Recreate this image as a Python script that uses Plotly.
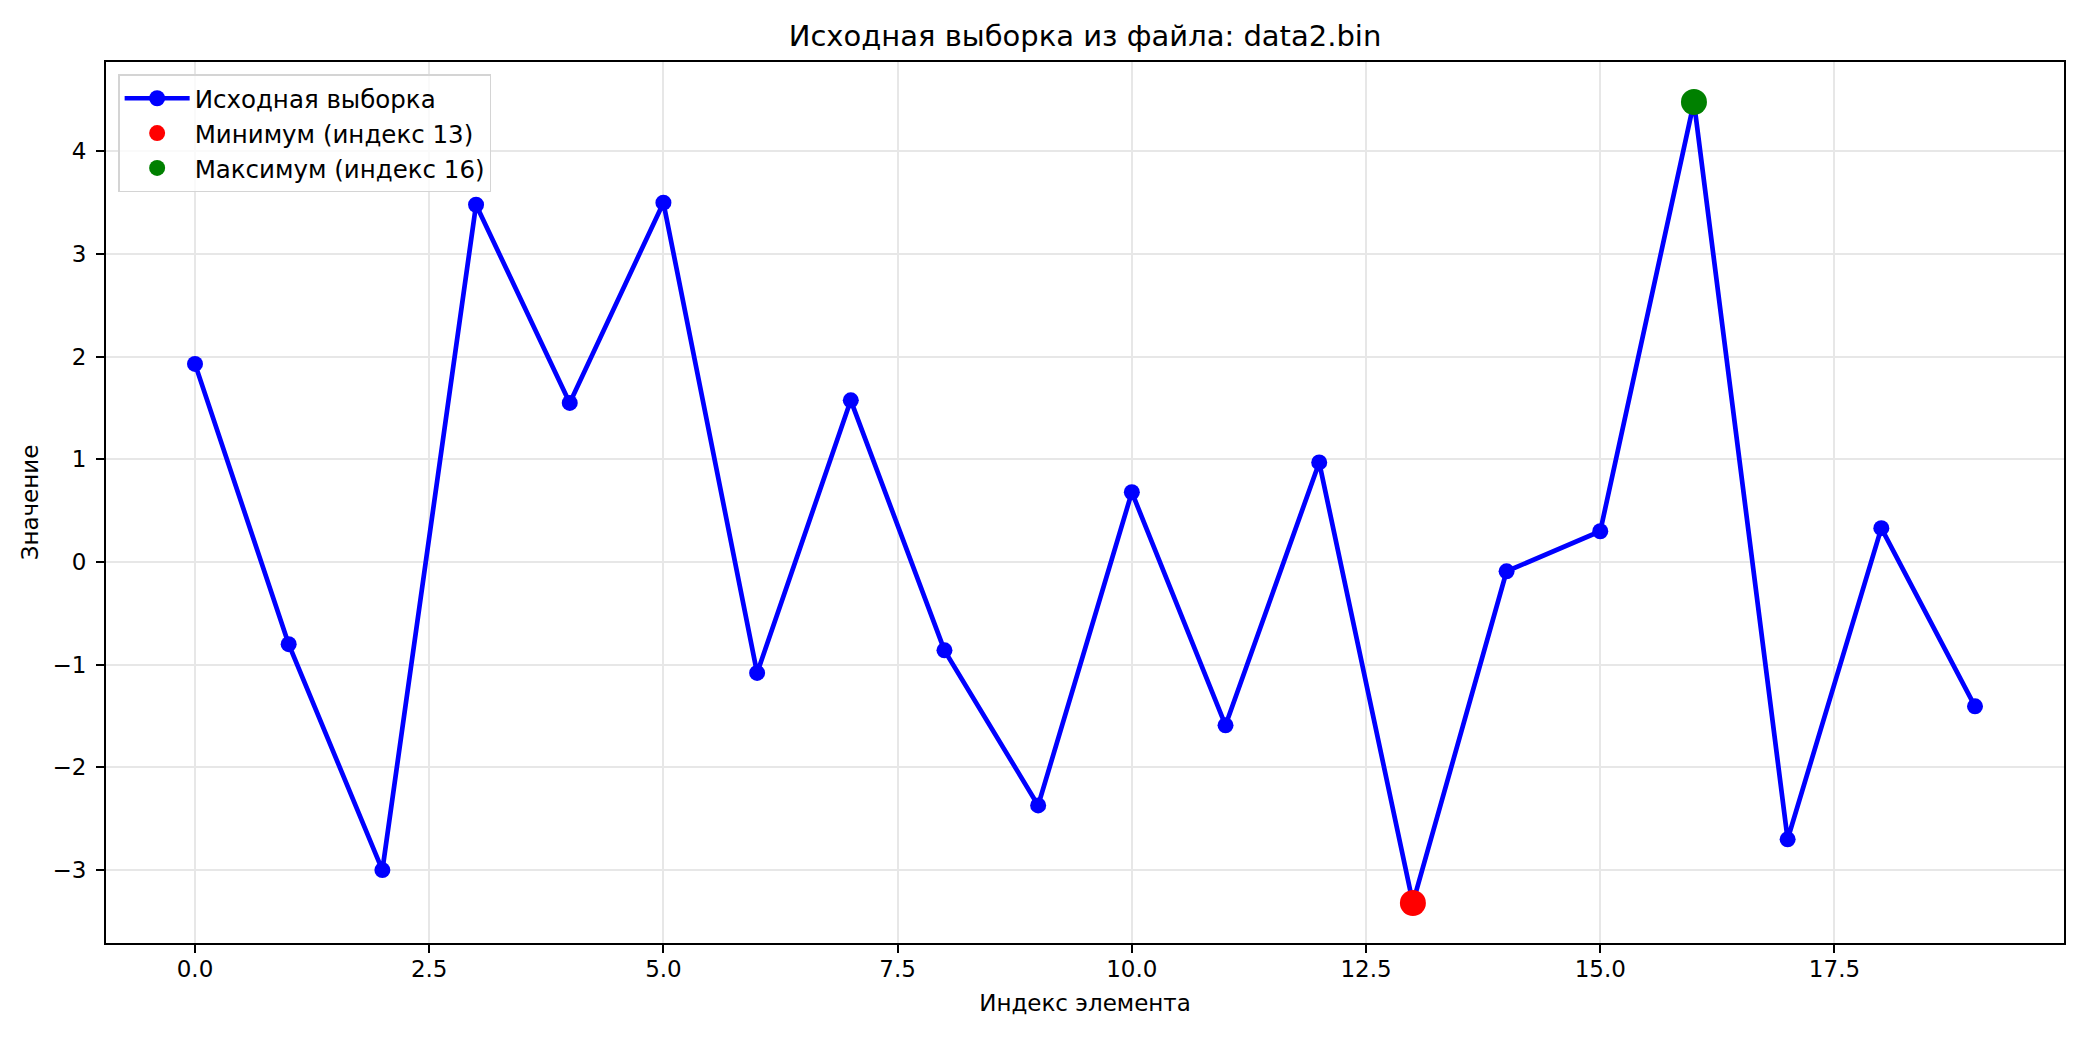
import plotly.graph_objects as go

indices = list(range(20))
values = [1.93, -0.80, -3.00, 3.48, 1.55, 3.50, -1.08, 1.575, -0.86, -2.37,
          0.68, -1.59, 0.97, -3.32, -0.09, 0.30, 4.48, -2.70, 0.33, -1.405]
min_idx = 13
max_idx = 16
title_text = "Исходная выборка из файла: data2.bin"
series_name = "Исходная выборка"
min_name = f"Минимум (индекс {min_idx})"
max_name = f"Максимум (индекс {max_idx})"
x_label = "Индекс элемента"
y_label = "Значение"

FONT = "DejaVu Sans"
W, H = 2069, 1030  # page body has an 8px margin

fig = go.Figure()
fig.add_trace(go.Scatter(x=indices, y=values, mode="lines+markers", name=series_name,
                         line=dict(color="#0000ff", width=4.7),
                         marker=dict(color="#0000ff", size=16)))
fig.add_trace(go.Scatter(x=[indices[min_idx]], y=[values[min_idx]], mode="markers", name=min_name,
                         marker=dict(color="#ff0000", size=26)))
fig.add_trace(go.Scatter(x=[indices[max_idx]], y=[values[max_idx]], mode="markers", name=max_name,
                         marker=dict(color="#008000", size=26)))

xmin, xmax = min(indices), max(indices)
ymin, ymax = min(values), max(values)
xm = 0.05 * (xmax - xmin)
ym = 0.05 * (ymax - ymin)

axis_common = dict(showline=True, mirror=True, linecolor="black", linewidth=1.9,
                   ticks="outside", ticklen=8, tickwidth=1.9, tickcolor="black",
                   showgrid=True, gridcolor="#e7e7e7", gridwidth=1.9, zeroline=False,
                   tickfont=dict(family=FONT, size=23, color="black"))

fig.update_xaxes(range=[xmin - xm, xmax + xm], dtick=2.5, tick0=0, tickformat=".1f",
                 ticklabelstandoff=-4,
                 title=dict(text=x_label, font=dict(family=FONT, size=23, color="black"), standoff=14),
                 **axis_common)
fig.update_yaxes(range=[ymin - ym, ymax + ym], dtick=1, tick0=0, ticklabelstandoff=5,
                 title=dict(text=y_label, font=dict(family=FONT, size=23, color="black"), standoff=7),
                 **axis_common)

fig.update_layout(
    width=W, height=H,
    margin=dict(l=98, r=11, t=54, b=95),
    paper_bgcolor="white", plot_bgcolor="white",
    font=dict(family=FONT, size=23, color="black"),
    title=dict(text=title_text, x=0.5, xref="paper", y=1 - 28 / H, yref="container",
               yanchor="middle", xanchor="center", font=dict(family=FONT, size=29, color="black")),
    legend=dict(x=0.0062, y=0.986, xanchor="left", yanchor="top",
                bgcolor="rgba(255,255,255,0.8)", bordercolor="#d4d4d4", borderwidth=1.5,
                font=dict(family=FONT, size=24.5, color="black"), itemsizing="trace",
                itemwidth=65),
    showlegend=True,
)

fig.write_html("out.html")
